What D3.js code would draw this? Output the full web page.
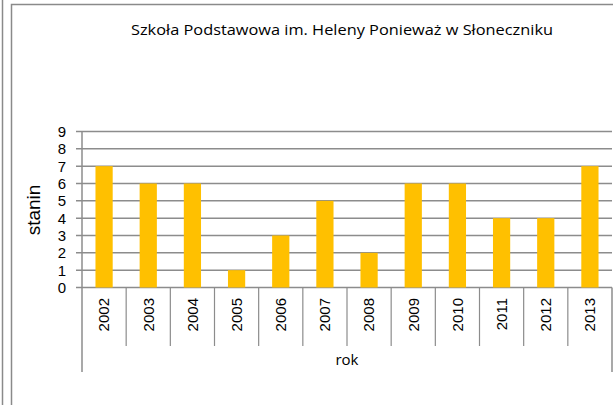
<!DOCTYPE html>
<html>
<head>
<meta charset="utf-8">
<script src="https://cdn.jsdelivr.net/npm/d3@7"></script>
<style>
	body { margin: 0; background: #fff; }
	text { font-family: "Liberation Sans", Arial, sans-serif; fill: #000; }
</style>
</head>
<body>
<div id="chart"></div>
<script>
const years = ['2002', '2003', '2004', '2005', '2006', '2007', '2008', '2009', '2010', '2011', '2012', '2013']
const stanin = [7, 6, 6, 1, 3, 5, 2, 6, 6, 4, 4, 7]
const yTicks = [0, 1, 2, 3, 4, 5, 6, 7, 8, 9]

const title = 'Szkoła Podstawowa im. Heleny Ponieważ w Słoneczniku'

let width = 613
let height = 405

let svg = d3.select('#chart')
	.append('svg')
	.attr('width', width)
	.attr('height', height)

// outer frames (sheet edge + chart box)
svg.append('line')
	.attr('x1', 2.5).attr('x2', 2.5)
	.attr('y1', 0).attr('y2', height)
	.attr('stroke', '#8a8a8a').attr('stroke-width', 1.5)
svg.append('path')
	.attr('d', `M11.5,${height} V4.5 H${width}`)
	.attr('fill', 'none')
	.attr('stroke', '#8a8a8a').attr('stroke-width', 1.5)

let plot = { left: 82, right: 612, top: 131.5, bottom: 287.5 }

let x = d3.scaleBand()
	.domain(years)
	.range([plot.left, plot.right])
	.paddingInner(0.61)
	.paddingOuter(0.305)

let xCat = d3.scaleBand()
	.domain(years)
	.range([plot.left, plot.right])

let y = d3.scaleLinear()
	.domain([0, 9])
	.range([plot.bottom, plot.top])

// gridlines + left tick marks
svg.append('g')
	.selectAll('line')
	.data(yTicks)
	.enter()
		.append('line')
		.attr('x1', plot.left - 6)
		.attr('x2', plot.right)
		.attr('y1', d => y(d))
		.attr('y2', d => y(d))
		.attr('stroke', '#8c8c8c')
		.attr('stroke-width', 1.5)

svg.append('g')
	.selectAll('text')
	.data(yTicks)
	.enter()
		.append('text')
		.attr('x', plot.left - 16)
		.attr('y', d => y(d))
		.attr('dy', '0.36em')
		.attr('text-anchor', 'end')
		.attr('font-size', 15)
		.text(d => d)

// bars
svg.append('g')
	.selectAll('rect')
	.data(stanin)
	.enter()
		.append('rect')
		.attr('x', (d, i) => x(years[i]))
		.attr('y', d => y(d))
		.attr('width', x.bandwidth())
		.attr('height', d => y(0) - y(d))
		.attr('fill', '#ffc000')

// y axis line + right edge of the category box
svg.append('line')
	.attr('x1', plot.left).attr('x2', plot.left)
	.attr('y1', plot.top).attr('y2', 372)
	.attr('stroke', '#8c8c8c').attr('stroke-width', 1.5)
svg.append('line')
	.attr('x1', plot.right).attr('x2', plot.right)
	.attr('y1', plot.bottom).attr('y2', 372)
	.attr('stroke', '#8c8c8c').attr('stroke-width', 1.5)

// category separators
svg.append('g')
	.selectAll('line')
	.data(years.slice(1))
	.enter()
		.append('line')
		.attr('x1', d => xCat(d))
		.attr('x2', d => xCat(d))
		.attr('y1', plot.bottom)
		.attr('y2', 346)
		.attr('stroke', '#8c8c8c')
		.attr('stroke-width', 1.2)

svg.append('g')
	.selectAll('text')
	.data(years)
	.enter()
		.append('text')
		.attr('transform', d => `translate(${xCat(d) + xCat.bandwidth() / 2},298) rotate(-90)`)
		.attr('dy', '0.36em')
		.attr('text-anchor', 'end')
		.attr('font-size', 15)
		.text(d => d)

// axis titles
svg.append('text')
	.attr('x', (plot.left + plot.right) / 2)
	.attr('y', 365)
	.attr('text-anchor', 'middle')
	.style('font-family', '"Open Sans", sans-serif')
	.attr('font-size', 15)
	.text('rok')

svg.append('text')
	.attr('transform', 'translate(33,210) rotate(-90)')
	.attr('dy', '0.36em')
	.attr('text-anchor', 'middle')
	.attr('font-size', 19)
	.text('stanin')

svg.append('text')
	.attr('x', 342)
	.attr('y', 35)
	.attr('text-anchor', 'middle')
	.style('font-family', '"Open Sans", sans-serif')
	.attr('font-size', 14.5)
	.attr('textLength', 422)
	.attr('lengthAdjust', 'spacingAndGlyphs')
	.text(title)
</script>
</body>
</html>
